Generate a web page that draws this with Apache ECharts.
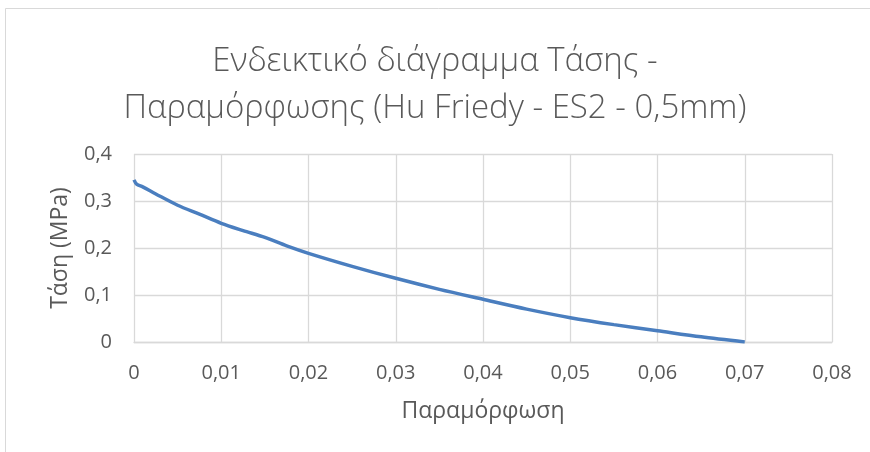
<!DOCTYPE html>
<html>
<head>
<meta charset="utf-8">
<script src="https://cdn.jsdelivr.net/npm/echarts@6/dist/echarts.min.js"></script>
<style>
  html, body { margin: 0; padding: 0; background: #fff; }
  #chart { width: 870px; height: 452px; }
</style>
</head>
<body>
<div id="chart"></div>
<script>
// Stress–strain curve (strain, stress in MPa)
const strain = [0, 0.0003, 0.001, 0.0025, 0.005, 0.0075, 0.01, 0.0125, 0.015, 0.0175, 0.02,
  0.025, 0.03, 0.035, 0.04, 0.045, 0.05, 0.055, 0.06, 0.065, 0.07];
const stress = [0.345, 0.336, 0.330, 0.315, 0.291, 0.272, 0.2525, 0.237, 0.2225, 0.2045, 0.1887,
  0.161, 0.1355, 0.112, 0.0908, 0.070, 0.0518, 0.037, 0.024, 0.011, 0.0];

const titleLines = ['Ενδεικτικό διάγραμμα Τάσης -', 'Παραμόρφωσης (Hu Friedy - ES2 - 0,5mm)'];
const xName = 'Παραμόρφωση';
const yName = 'Τάση (MPa)';

const font = '"Open Sans", "Noto Sans", sans-serif';
const comma = v => String(+v.toFixed(4)).replace('.', ',');

const chart = echarts.init(document.getElementById('chart'), null, { renderer: 'canvas' });
chart.setOption({
  backgroundColor: '#fff',
  animation: false,
  graphic: [{
    type: 'rect',
    shape: { x: 5.5, y: 8.5, width: 900, height: 500 },
    style: { fill: 'none', stroke: '#d9d9d9', lineWidth: 1 },
    silent: true
  }],
  title: {
    text: titleLines.join('\n'),
    left: 'center',
    top: 33,
    textStyle: {
      fontFamily: font, fontWeight: 300, fontSize: 33, color: '#595959', lineHeight: 47
    }
  },
  grid: { left: 134, right: 38, top: 154, bottom: 110 },
  xAxis: {
    type: 'value', min: 0, max: 0.08, interval: 0.01,
    name: xName, nameLocation: 'middle', nameGap: 58,
    nameTextStyle: { fontFamily: font, fontSize: 23, color: '#595959' },
    axisLine: { show: true, lineStyle: { color: '#d9d9d9', width: 1.3 } },
    axisTick: { show: false },
    splitLine: { show: true, lineStyle: { color: '#d9d9d9', width: 1.3 } },
    axisLabel: { formatter: comma, margin: 21, fontFamily: font, fontSize: 20, color: '#595959' }
  },
  yAxis: {
    type: 'value', min: 0, max: 0.4, interval: 0.1,
    name: yName, nameLocation: 'middle', nameGap: 62, nameRotate: 90,
    nameTextStyle: { fontFamily: font, fontSize: 23, color: '#595959' },
    axisLine: { show: false },
    axisTick: { show: false },
    splitLine: { show: true, lineStyle: { color: '#d9d9d9', width: 1.3 } },
    axisLabel: { formatter: comma, margin: 22, fontFamily: font, fontSize: 20, color: '#595959' }
  },
  series: [{
    type: 'line',
    data: strain.map((x, i) => [x, stress[i]]),
    smooth: 0.3,
    showSymbol: false,
    lineStyle: { color: '#4a7ebf', width: 3.5 }
  }]
});
</script>
</body>
</html>
